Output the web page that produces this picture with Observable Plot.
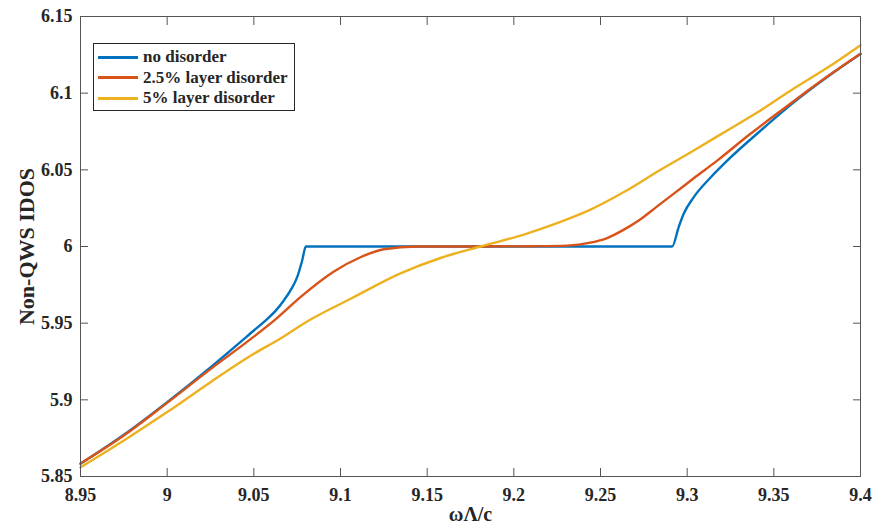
<!DOCTYPE html>
<html>
<head>
<meta charset="utf-8">
<script src="https://cdn.jsdelivr.net/npm/d3@7"></script>
<script src="https://cdn.jsdelivr.net/npm/@observablehq/plot@0.6"></script>
<style>
  html, body { margin: 0; padding: 0; background: #fff; }
  #wrap { position: relative; width: 875px; height: 529px; }
  #legend {
    position: absolute; left: 93px; top: 43px; width: 202px; height: 68px;
    border: 1px solid #262626; background: #fff;
    font-family: "Liberation Serif", "Times New Roman", serif; font-weight: bold;
    font-size: 17px; color: #262626; box-sizing: border-box; padding-top: 3px;
  }
  .row { display: flex; align-items: center; height: 20.5px; }
  .sw { width: 40px; height: 3px; margin-left: 4px; margin-right: 5px; }
</style>
</head>
<body>
<div id="wrap"><div id="chart"></div><div id="legend"></div></div>
<script>
const seriesNames = ["no disorder", "2.5% layer disorder", "5% layer disorder"];
const seriesColors = ["#0072BD", "#D95319", "#EDB120"];

const noDisorderX = [8.95, 8.975, 9.0, 9.025, 9.05, 9.0567, 9.0625, 9.0673, 9.0715, 9.075, 9.0779, 9.08, 9.2913, 9.2952, 9.298, 9.3038, 9.3135, 9.3231, 9.3423, 9.3615, 9.3808, 9.4];
const noDisorderY = [5.8583, 5.8772, 5.8985, 5.9212, 5.9452, 5.9517, 5.9580, 5.9648, 5.9720, 5.9800, 5.9909, 6.0000, 6.0000, 6.0130, 6.0213, 6.0322, 6.0450, 6.0560, 6.0755, 6.0940, 6.1105, 6.1255];

const layer25X = [8.95, 8.975, 9.0, 9.025, 9.05, 9.0625, 9.0769, 9.0962, 9.1115, 9.125, 9.1442, 9.18, 9.21, 9.2308, 9.2442, 9.2538, 9.2635, 9.2731, 9.2827, 9.2923, 9.3038, 9.3173, 9.3365, 9.3558, 9.375, 9.4];
const layer25Y = [5.8585, 5.8767, 5.8980, 5.9200, 5.9412, 5.9525, 5.9670, 5.9837, 5.9930, 5.9982, 6.0000, 6.0000, 6.0002, 6.0006, 6.0025, 6.0055, 6.0110, 6.0178, 6.0262, 6.0345, 6.0445, 6.0560, 6.0735, 6.0900, 6.1062, 6.1258];

const layer5X = [8.95, 8.975, 9.0, 9.025, 9.05, 9.0654, 9.0817, 9.1058, 9.1346, 9.1577, 9.1808, 9.2058, 9.225, 9.2442, 9.2635, 9.2846, 9.3038, 9.3231, 9.3423, 9.3615, 9.3808, 9.4];
const layer5Y = [5.8560, 5.8735, 5.8920, 5.9115, 5.9300, 5.9400, 5.9517, 5.9659, 5.9825, 5.9925, 6.0000, 6.0078, 6.0152, 6.0240, 6.0355, 6.0500, 6.0626, 6.0757, 6.0887, 6.1030, 6.1165, 6.1313];

const xTicks = [8.95, 9.0, 9.05, 9.1, 9.15, 9.2, 9.25, 9.3, 9.35, 9.4];
const xTickLabels = ["8.95", "9", "9.05", "9.1", "9.15", "9.2", "9.25", "9.3", "9.35", "9.4"];
const yTicks = [5.85, 5.9, 5.95, 6.0, 6.05, 6.1, 6.15];
const yTickLabels = ["5.85", "5.9", "5.95", "6", "6.05", "6.1", "6.15"];

const allX = [noDisorderX, layer25X, layer5X];
const allY = [noDisorderY, layer25Y, layer5Y];
const data = seriesNames.flatMap((s, k) => allX[k].map((x, i) => ({series: s, x, y: allY[k][i]})));

const axisColor = "#262626";
const chart = Plot.plot({
  width: 875, height: 529,
  marginLeft: 80, marginRight: 15, marginTop: 16, marginBottom: 53,
  x: {domain: [8.95, 9.4]},
  y: {domain: [5.85, 6.15]},
  color: {domain: seriesNames, range: seriesColors},
  style: {fontFamily: "'Liberation Serif', 'Times New Roman', serif", fontWeight: "bold", fontSize: "18px", color: axisColor, background: "#fff"},
  marks: [
    Plot.line(data, {x: "x", y: "y", z: "series", stroke: "series", strokeWidth: 2.4, curve: "monotone-x"}),
    Plot.frame({stroke: "#555", strokeWidth: 1}),
    Plot.axisX({anchor: "bottom", ticks: xTicks, tickSize: -8, tickPadding: 20, stroke: "#555",
      tickFormat: (d, i) => xTickLabels[i], label: null, fontSize: 18}),
    Plot.axisX({anchor: "bottom", ticks: [], label: "ωΛ/c", labelAnchor: "center", labelArrow: "none", labelOffset: 44, fontSize: 20}),
    Plot.axisX({anchor: "top", ticks: xTicks, tickSize: -8, stroke: "#555", tickFormat: () => "", label: null}),
    Plot.axisY({anchor: "left", ticks: yTicks, tickSize: -8, tickPadding: 16, stroke: "#555",
      tickFormat: (d, i) => yTickLabels[i], label: null, fontSize: 18}),
    Plot.axisY({anchor: "left", ticks: [], label: "Non-QWS IDOS", labelAnchor: "center", labelArrow: "none", labelOffset: 62, fontSize: 22}),
    Plot.axisY({anchor: "right", ticks: yTicks, tickSize: -8, stroke: "#555", tickFormat: () => "", label: null})
  ]
});
document.getElementById("chart").appendChild(chart);

const legend = document.getElementById("legend");
seriesNames.forEach((s, k) => {
  const row = document.createElement("div");
  row.className = "row";
  const sw = document.createElement("div");
  sw.className = "sw";
  sw.style.background = seriesColors[k];
  const t = document.createElement("span");
  t.textContent = s;
  row.appendChild(sw); row.appendChild(t);
  legend.appendChild(row);
});
</script>
</body>
</html>
